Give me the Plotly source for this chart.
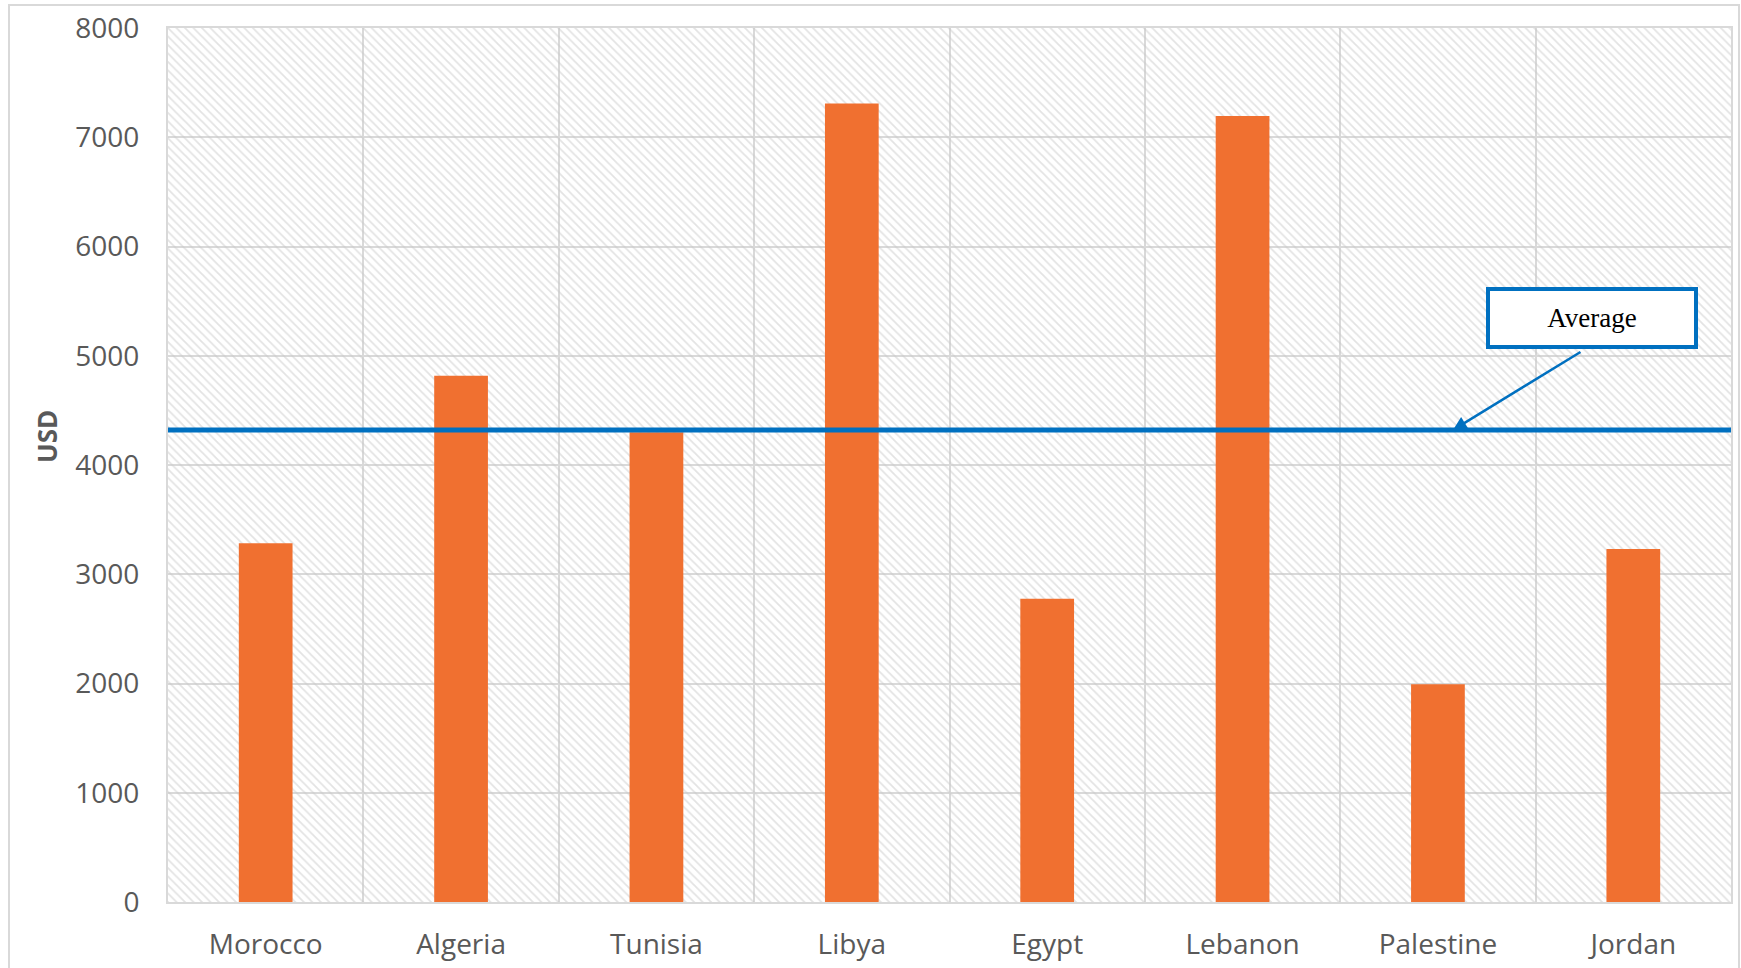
import plotly.graph_objects as go

countries = ["Morocco", "Algeria", "Tunisia", "Libya", "Egypt", "Lebanon", "Palestine", "Jordan"]
usd_values = [3283, 4818, 4300, 7310, 2775, 7194, 1992, 3232]
average_value = 4320
y_max = 8000
y_ticks = [0, 1000, 2000, 3000, 4000, 5000, 6000, 7000, 8000]

W, H = 1741, 968
ML, MR, MT, MB = 168, 10, 28, 66
pw = W - ML - MR
ph = H - MT - MB

def px_x(p):
    return (p - ML) / pw

def px_y(p):
    return (H - MB - p) / ph

fig = go.Figure()

# hatched background
fig.add_trace(go.Bar(
    x=countries, y=[y_max] * len(countries), width=1,
    marker=dict(color="rgba(0,0,0,0)", line=dict(width=0),
                pattern=dict(shape="\\", fgcolor="#C8C8C8", bgcolor="rgba(0,0,0,0)",
                             size=6, solidity=0.3)),
    hoverinfo="skip", showlegend=False,
))

fig.add_trace(go.Bar(
    x=countries, y=usd_values, width=0.275,
    marker=dict(color="#F07030", line=dict(width=0)),
    showlegend=False,
))

fig.add_shape(type="line", xref="paper", yref="y", x0=0, x1=1,
              y0=average_value, y1=average_value,
              line=dict(color="#0070C0", width=5))

# outer chart border
fig.add_shape(type="rect", xref="paper", yref="paper",
              x0=px_x(9), x1=px_x(1739), y0=px_y(1000), y1=px_y(5),
              line=dict(color="#D9D9D9", width=2), fillcolor="rgba(0,0,0,0)", layer="below")

# arrow
fig.add_annotation(xref="paper", yref="y", x=px_x(1453), y=average_value,
                   axref="pixel", ayref="pixel", ax=1582 - 1453, ay=349 - 428,
                   text="", showarrow=True, arrowhead=2, arrowsize=1.1, arrowwidth=2.5,
                   arrowcolor="#0070C0")

# Average label box
fig.add_annotation(xref="paper", yref="paper", x=px_x(1592), y=px_y(318),
                   text="Average", showarrow=False,
                   font=dict(family="Liberation Serif", size=27, color="#000000"),
                   bgcolor="#FFFFFF", bordercolor="#0070C0", borderwidth=4, borderpad=2,
                   width=200, height=50, xanchor="center", yanchor="middle")

# y axis title
fig.add_annotation(xref="paper", yref="paper", x=px_x(47), y=px_y(437),
                   text="<b>USD</b>", showarrow=False, textangle=-90,
                   font=dict(family="Open Sans", size=26, color="#595959"),
                   xanchor="center", yanchor="middle")

fig.update_layout(
    width=W, height=H,
    margin=dict(l=ML, r=MR, t=MT, b=MB, pad=0, autoexpand=False),
    barmode="overlay",
    plot_bgcolor="#FFFFFF", paper_bgcolor="#FFFFFF",
    font=dict(family="Open Sans", color="#595959"),
    xaxis=dict(tickson="boundaries", showgrid=True, gridcolor="#D9D9D9", gridwidth=2,
               showline=True, linecolor="#D9D9D9", linewidth=2, mirror=True,
               ticks="", tickfont=dict(size=28, color="#595959"), automargin=False,
               ticklabelstandoff=16, range=[-0.5, len(countries) - 0.5]),
    yaxis=dict(range=[0, y_max], tickvals=y_ticks, showgrid=True, gridcolor="#D9D9D9",
               gridwidth=2, showline=True, linecolor="#D9D9D9", linewidth=2, mirror=True,
               ticks="", tickfont=dict(size=28, color="#595959"), ticklabelstandoff=21,
               automargin=False, zeroline=False),
)

fig.write_html("out.html")
